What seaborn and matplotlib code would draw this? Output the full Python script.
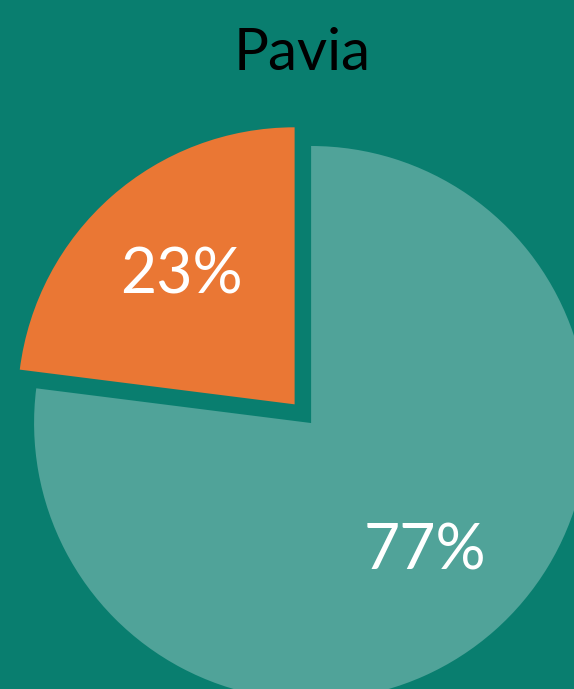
import matplotlib
matplotlib.use("Agg")
import matplotlib.pyplot as plt
import seaborn as sns

# data
labels = ["Other", "Main"]
shares = [23, 77]
slice_colors = ["#ea7734", "#50a399"]
explode = [0.09, 0.0]
title = "Pavia"

BG = "#097e6f"

sns.set_theme(style="white")
plt.rcParams["font.family"] = ["Lato", "DejaVu Sans"]

fig = plt.figure(figsize=(5.74, 6.89), dpi=100, facecolor=BG)
ax = fig.add_axes([0, 0, 1, 1])
ax.set_facecolor(BG)

wedges, texts, autotexts = ax.pie(
    shares,
    colors=slice_colors,
    explode=explode,
    startangle=90,
    counterclock=True,
    autopct="%d%%",
    pctdistance=0.62,
    radius=1.0,
    wedgeprops={"linewidth": 0},
    textprops={"color": "white", "fontsize": 45},
)

# crop the pie like the reference
ax.set_aspect("auto")
ax.set_xlim(-1.123, 0.949)
ax.set_ylim(-0.960, 1.527)
ax.axis("off")

fig.text(0.527, 0.922, title, ha="center", va="center",
         fontsize=42, color="black")

fig.savefig("out.png", dpi=100, facecolor=BG)
